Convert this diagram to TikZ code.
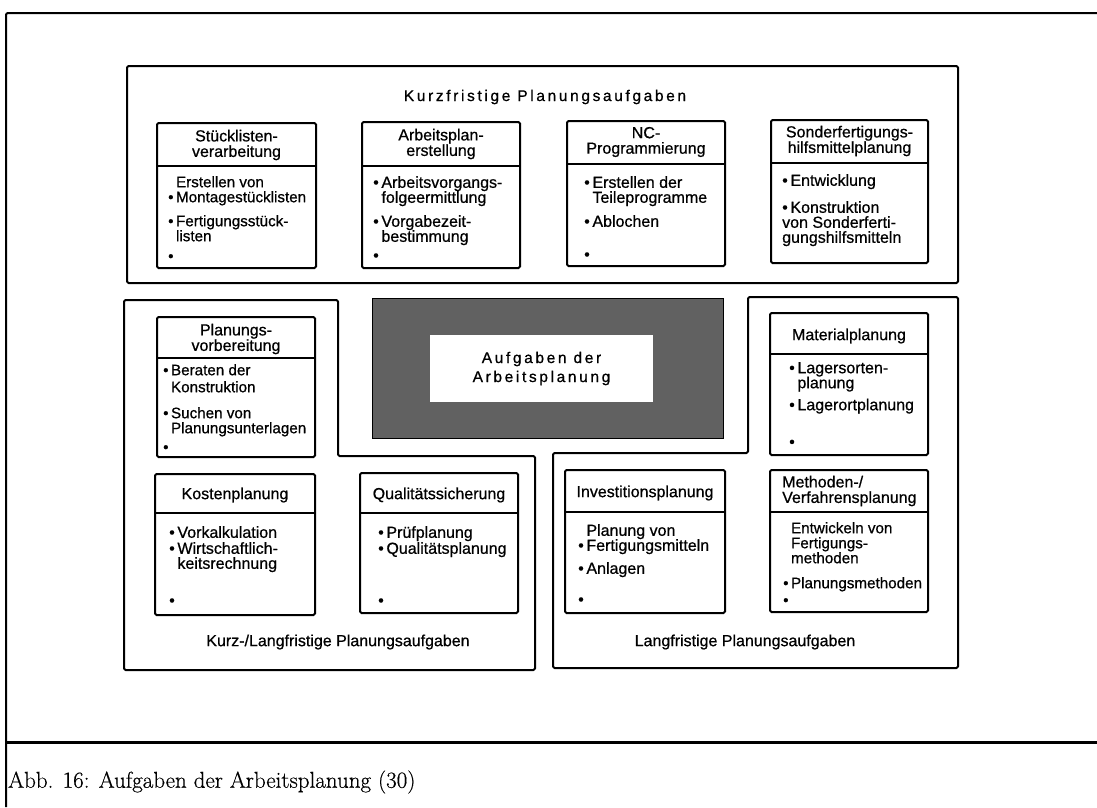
\documentclass[tikz,border=0pt]{standalone}
\usepackage{fontspec}
\newfontfamily\dsf{Liberation Sans}[FakeBold=0.7]
\newfontfamily\dsfsp{Liberation Sans}[LetterSpace=17,FakeBold=0.7]
\newfontfamily\capf{Latin Modern Roman}[FakeBold=0.5]
\newcommand\ind{\phantom{\textbullet\,}}
\newcommand\bu{\textbullet\,}
\tikzset{
  x=1pt, y=-1pt,
  frameline/.style={line width=2pt, line join=round},
  tbox/.style={draw, line width=2pt, rounded corners=1.5pt, inner sep=0pt, outer sep=0pt, anchor=north west},
  hd/.style={font=\dsf\fontsize{16}{15.5}\selectfont, align=center, inner sep=0pt},
  bd/.style={font=\dsf\fontsize{16}{15}\selectfont, align=left, inner sep=0pt, anchor=north west},
  bds/.style={bd, font=\dsf\fontsize{15.2}{15}\selectfont},
  lbl/.style={font=\dsf\fontsize{16}{16}\selectfont, inner sep=0pt},
  spc/.style={font=\dsfsp\fontsize{15.5}{19}\selectfont, align=center, inner sep=0pt},
}
% name, x1, y1, x2, y2, ysep
\newcommand\tb[6]{%
  \node[tbox, minimum width={#4pt-#2pt}, minimum height={#5pt-#3pt}] (#1) at (#2,#3) {};
  \draw[line width=2pt] (#1.west |- 0,#6) -- (#1.east |- 0,#6);
}
\begin{document}
\begin{tikzpicture}
\useasboundingbox (0,0) rectangle (1097,807);
% page frame
\draw[line width=2pt, rounded corners=2pt] (1097,13) -- (6,13) -- (6,807);
\draw[line width=3pt] (6,742) -- (1097,742);

% short-term container
\draw[frameline, rounded corners=1.5pt] (127,66) rectangle (958,283);
\node[spc] (tkurz) at (545,97) {Kurzfristige Planungsaufgaben};

\tb{b1}{157}{123}{316}{268}{166}
\node[hd] (b1h) at (236.5,145) {Stücklisten-\\verarbeitung};
\node[bds] (b1b) at (168,176) {\ind Erstellen von\\ \bu Montagestücklisten\\[9pt] \bu Fertigungsstück-\\ \ind listen\\[5pt] \textbullet};

\tb{b2}{362}{122}{520}{268}{166}
\node[hd] (b2h) at (441,144) {Arbeitsplan-\\erstellung};
\node[bd] (b2b) at (373,176) {\bu Arbeitsvorgangs-\\ \ind folgeermittlung\\[9pt] \bu Vorgabezeit-\\ \ind bestimmung\\[4pt] \textbullet};

\tb{b3}{567}{121}{725}{266}{164}
\node[hd] (b3h) at (646,142) {NC-\\Programmierung};
\node[bd] (b3b) at (584,176) {\bu Erstellen der\\ \ind Teileprogramme\\[9pt] \bu Ablochen\\[18pt] \textbullet};

\tb{b4}{771}{120}{928}{263}{163}
\node[hd] (b4h) at (849.5,141) {Sonderfertigungs-\\hilfsmittelplanung};
\node[bd] (b4b) at (782,174) {\bu Entwicklung\\[12pt] \bu Konstruktion\\ von Sonderferti-\\ gungshilfsmitteln};

% mixed-term container (L shape)
\draw[frameline, rounded corners=1.5pt] (124,300) -- (338,300) -- (338,456) -- (535,456) -- (535,670) -- (124,670) -- cycle;
\node[lbl] (tkl) at (338,642) {Kurz-/Langfristige Planungsaufgaben};

% long-term container (L shape)
\draw[frameline, rounded corners=1.5pt] (748,297) -- (958,297) -- (958,668) -- (553,668) -- (553,453) -- (748,453) -- cycle;
\node[lbl] (tlang) at (745,642) {Langfristige Planungsaufgaben};

% centre
\draw[line width=1pt, fill=black!62] (372,298) rectangle (723,438);
\node[fill=white, minimum width=223pt, minimum height=67pt, inner sep=0pt] (center) at (541.5,368.5) {};
\node[spc] (ctext) at (center) {Aufgaben der\\Arbeitsplanung};

\tb{b5}{157}{317}{315}{457}{358}
\node[hd] (b5h) at (236,339) {Planungs-\\vorbereitung};
\node[bds] (b5b) at (163,364) {\bu Beraten der\\[2pt] \ind Konstruktion\\[11pt] \bu Suchen von\\ \ind Planungsunterlagen\\[4pt] \textbullet};

\tb{b6}{770}{313}{928}{455}{354}
\node[hd] (b6h) at (849,336) {Materialplanung};
\node[bd] (b6b) at (789,362) {\bu Lagersorten-\\ \ind planung\\[7pt] \bu Lagerortplanung\\[22pt] \textbullet};

\tb{b7}{155}{474}{315}{615}{513}
\node[hd] (b7h) at (235,495) {Kostenplanung};
\node[bd] (b7b) at (169,526) {\bu Vorkalkulation\\[1pt] \bu Wirtschaftlich-\\ \ind keitsrechnung\\[22pt] \textbullet};

\tb{b8}{360}{473}{518}{613}{513}
\node[hd] (b8h) at (439,495) {Qualitätssicherung};
\node[bd] (b8b) at (378,526) {\bu Prüfplanung\\[1pt] \bu Qualitätsplanung\\[37pt] \textbullet};

\tb{b9}{565}{470}{725}{613}{512}
\node[hd] (b9h) at (645,493) {Investitionsplanung};
\node[bd] (b9b) at (578,524) {\ind Planung von\\ \bu Fertigungsmitteln\\[8pt] \bu Anlagen\\[16pt] \textbullet};

\tb{b10}{770}{470}{928}{612}{512}
\node[hd, align=left, anchor=west] (b10h) at (782,491) {Methoden-/\\Verfahrensplanung};
\node[bds] (b10b) at (783,522) {\ind Entwickeln von\\ \ind Fertigungs-\\ \ind methoden\\[10pt] \bu Planungsmethoden\\[2pt] \textbullet};

% caption
\node[anchor=west, inner sep=0pt, font=\capf\fontsize{23}{25}\selectfont] (cap) at (8,782) {Abb. 16: Aufgaben der Arbeitsplanung (30)};
\end{tikzpicture}
\end{document}
